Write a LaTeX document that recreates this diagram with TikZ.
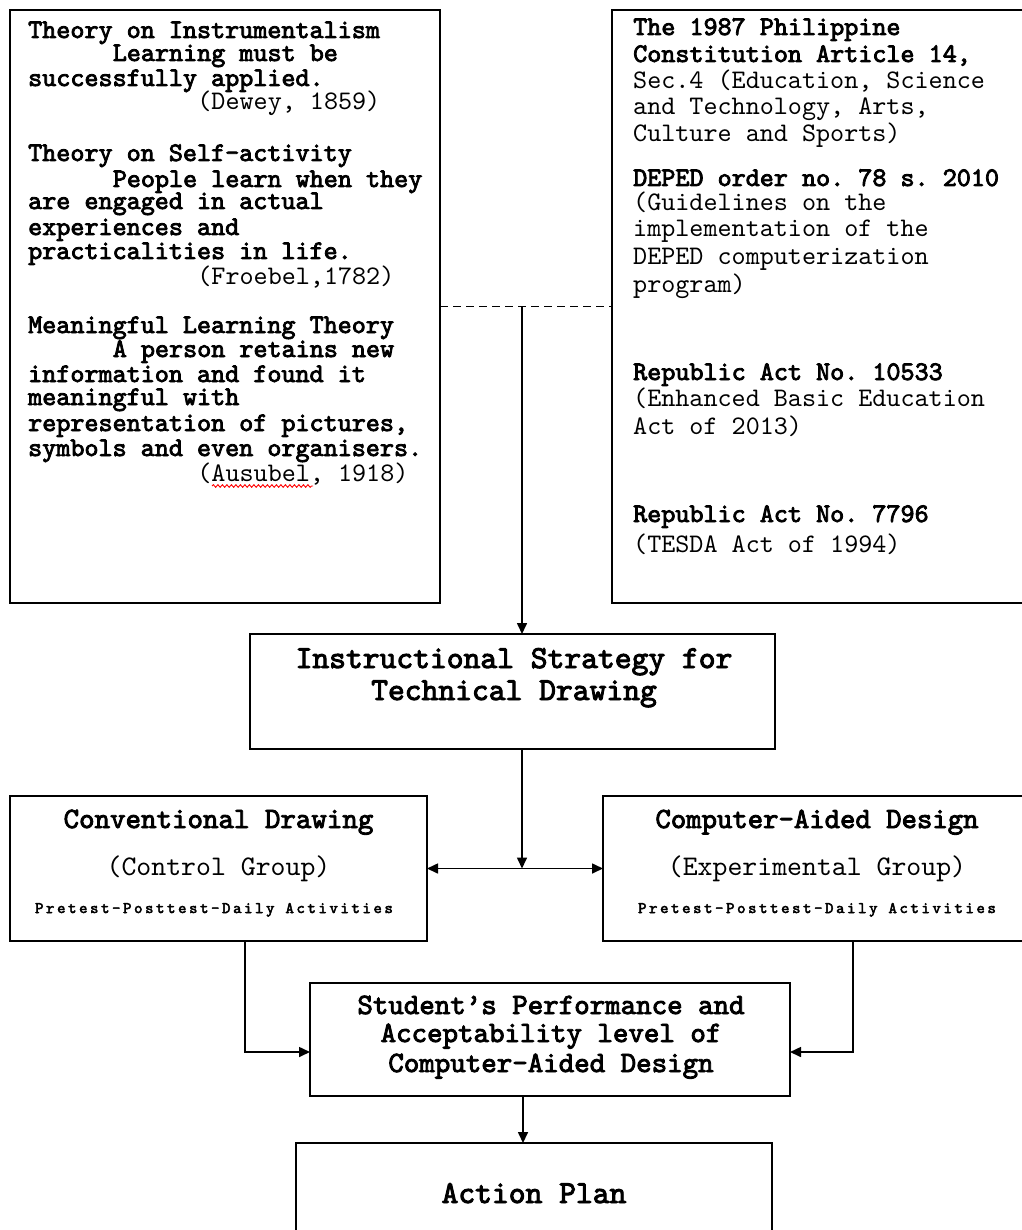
\documentclass[tikz,border=0pt]{standalone}
\usepackage{fontspec}
\usepackage{graphicx}
\setmonofont{lmmono10-regular.otf}[BoldFont=lmmono10-regular.otf, BoldFeatures={FakeBold=3}]
\usetikzlibrary{arrows.meta,decorations.pathmorphing}
\newcommand\bodyf{\ttfamily\fontsize{26.8}{26}\selectfont}
\newcommand\headf{\ttfamily\fontsize{26.8}{26}\selectfont\bfseries}
\tikzset{
  box/.style={draw=black, line width=1.6pt, anchor=north west, inner sep=0pt, outer sep=0pt},
  txt/.style={anchor=base west, inner sep=0pt, font=\bodyf},
  hd/.style={font=\headf},
  ctxt/.style={anchor=base, inner sep=0pt},
  conn/.style={line width=1.6pt, draw=black},
  arr/.style={conn, -{Triangle[length=11pt,width=10pt]}},
  arrb/.style={conn, {Triangle[length=11pt,width=10pt]}-{Triangle[length=11pt,width=10pt]}},
  dashline/.style={conn, dash pattern=on 8pt off 5pt}
}
\newcommand\tl[4]{\node[txt,#1] (#2) at (#3) {#4};}
\def\lsp#1{\ifx#1\relax\else#1\kern2.6pt\expandafter\lsp\fi}
\newcommand\smallline{\ttfamily\fontsize{16}{16}\selectfont\bfseries\lsp Pretest-Posttest-Daily\relax\ \lsp Activities\relax\kern-2.6pt}
\begin{document}
\begin{tikzpicture}[x=1pt,y=-1pt]
\useasboundingbox[fill=white] (0,0) rectangle (1021,1230);
% boxes
\node[box, minimum width=430pt, minimum height=593pt] (L) at (10,10) {};
\node[box, minimum width=423pt, minimum height=593pt] (R) at (612,10) {};
\node[box, minimum width=525pt, minimum height=115pt] (IS) at (250,634) {};
\node[box, minimum width=417pt, minimum height=145pt] (CD) at (10,796) {};
\node[box, minimum width=432pt, minimum height=145pt] (CAD) at (603,796) {};
\node[box, minimum width=480pt, minimum height=113pt] (SP) at (310,983) {};
\node[box, minimum width=476pt, minimum height=110pt] (AP) at (296,1143) {};
% left box text
\tl{hd}{L1}{28,38}{Theory on Instrumentalism}
\tl{hd}{L2}{112.6,61}{Learning must be}
\tl{hd}{L3}{28,86}{successfully applied.}
\tl{}{L4}{197.2,110}{(Dewey, 1859)}
\tl{hd}{L5}{28,161}{Theory on Self-activity}
\tl{hd}{L6}{112.6,187}{People learn when they}
\tl{hd}{L7}{28,209}{are engaged in actual}
\tl{hd}{L8}{28,235}{experiences and}
\tl{hd}{L9}{28,259}{practicalities in life.}
\tl{}{L10}{197.2,284}{(Froebel,1782)}
\tl{hd}{L11}{28,333}{Meaningful Learning Theory}
\tl{hd}{L12}{112.6,357}{A person retains new}
\tl{hd}{L13}{28,382}{information and found it}
\tl{hd}{L14}{28,405}{meaningful with}
\tl{hd}{L15}{28,431}{representation of pictures,}
\tl{hd}{L16}{28,456}{symbols and even organisers.}
\tl{}{L17}{197.2,481}{(Ausubel, 1918)}
\draw[red, line width=0.9pt, decorate, decoration={snake, amplitude=1.3pt, segment length=4.5pt}] (212,486) -- (313,486);
% right box text
\tl{hd}{R1}{633,35}{The 1987 Philippine}
\tl{hd}{R2}{633,62}{Constitution Article 14,}
\tl{}{R3}{633,89}{Sec.4 (Education, Science}
\tl{}{R4}{633,115}{and Technology, Arts,}
\tl{}{R5}{633,142}{Culture and Sports)}
\tl{hd}{R6}{633,186}{DEPED order no. 78 s. 2010}
\tl{}{R7}{633,211}{(Guidelines on the}
\tl{}{R8}{633,237}{implementation of the}
\tl{}{R9}{633,265}{DEPED computerization}
\tl{}{R10}{633,293}{program)}
\tl{hd}{R11}{633,380}{Republic Act No. 10533}
\tl{}{R12}{633,406}{(Enhanced Basic Education}
\tl{}{R13}{633,434}{Act of 2013)}
\tl{hd}{R14}{633,522}{Republic Act No. 7796}
\tl{}{R15}{633,552}{(TESDA Act of 1994)}
% centre texts
\node[ctxt, font=\ttfamily\fontsize{32}{32}\selectfont\bfseries] (IS1) at (514,668) {Instructional Strategy for};
\node[ctxt, font=\ttfamily\fontsize{32}{32}\selectfont\bfseries] (IS2) at (514,700) {Technical Drawing};
\node[ctxt, font=\ttfamily\fontsize{29.5}{30}\selectfont\bfseries] (CD1) at (218.5,828) {Conventional Drawing};
\node[ctxt, font=\ttfamily\fontsize{28.4}{29}\selectfont] (CD2) at (218.5,875) {(Control Group)};
\node[ctxt] (CD3) at (214,913) {\smallline};
\node[ctxt, font=\ttfamily\fontsize{29.3}{30}\selectfont\bfseries] (CAD1) at (817,828) {Computer-Aided Design};
\node[ctxt, font=\ttfamily\fontsize{28.4}{29}\selectfont] (CAD2) at (817,875) {(Experimental Group)};
\node[ctxt] (CAD3) at (817,913) {\smallline};
\node[ctxt, font=\ttfamily\fontsize{29.5}{30}\selectfont\bfseries] (SP1) at (551,1014) {Student’s Performance and};
\node[ctxt, font=\ttfamily\fontsize{29.5}{30}\selectfont\bfseries] (SP2) at (551,1042) {Acceptability level of};
\node[ctxt, font=\ttfamily\fontsize{29.5}{30}\selectfont\bfseries] (SP3) at (551,1072) {Computer-Aided Design};
\node[ctxt, font=\ttfamily\fontsize{32}{32}\selectfont\bfseries] (AP1) at (534,1203) {Action Plan};
% connectors
\coordinate (j1) at (522,306.5);
\coordinate (j2) at (522,868.5);
\coordinate (cdl) at (245,1052);
\coordinate (cadr) at (853,1052);
\draw[dashline] (L.east) -- (R.west);
\draw[arr] (j1) -- (j1 |- IS.north);
\draw[arr] (j1 |- IS.south) -- (j2);
\draw[arrb] (CD.east) -- (CAD.west);
\draw[arr] (cdl |- CD.south) -- (cdl) -- (cdl -| SP.west);
\draw[arr] (cadr |- CAD.south) -- (cadr) -- (cadr -| SP.east);
\draw[arr] (SP.south -| 523,0) -- (AP.north -| 523,0);
\end{tikzpicture}
\end{document}
